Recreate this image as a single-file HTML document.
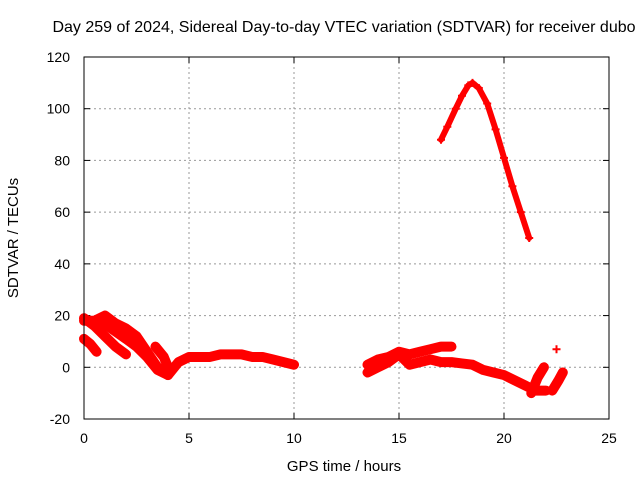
<!DOCTYPE html>
<html><head><meta charset="utf-8"><style>
body{margin:0;background:#fff}
svg{display:block;font-family:"Liberation Sans",sans-serif}
</style></head><body>
<svg id="chart" width="640" height="480" xmlns="http://www.w3.org/2000/svg">
<text x="344" y="32" text-anchor="middle" font-size="16">Day 259 of 2024, Sidereal Day-to-day VTEC variation (SDTVAR) for receiver dubo</text>
<text x="344" y="471" text-anchor="middle" font-size="15">GPS time / hours</text>
<text transform="translate(18,238) rotate(-90)" text-anchor="middle" font-size="15">SDTVAR / TECUs</text>
<g id="grid"></g><g id="data"></g>
<rect x="84" y="57" width="525" height="362" fill="none" stroke="#000" stroke-width="1"/>
</svg>
<script>
const xTicks=[0,5,10,15,20,25];
const yTicks=[-20,0,20,40,60,80,100,120];
const seriesA=[[0,18],[0.5,18],[1,20],[1.5,17],[2,15],[2.5,12],[3,6],[3.5,0],[4,-3],[4.5,2],[5,4],[5.5,4],[6,4],[6.5,5],[7,5],[7.5,5],[8,4],[8.5,4],[9,3],[9.5,2],[10,1]];
const seriesB=[[0,19],[0.5,16],[1,12],[1.5,8],[2,5]];
const seriesC=[[0.8,18],[1.3,15],[2,11],[2.5,8],[3,4],[3.5,-1],[4,-3]];
const seriesD=[[0,11],[0.3,9],[0.6,6]];
const seriesE=[[3.4,8],[3.8,4],[4,0]];
const seriesF=[[13.5,1],[14,3],[14.5,4],[15,6],[15.5,5],[16,6],[16.5,7],[17,8],[17.5,8]];
const seriesG=[[13.5,-2],[14,0],[14.5,2],[15,5],[15.5,1],[16,2],[16.5,3],[17,2],[17.5,2],[18,1.5],[18.5,1],[19,-1],[19.5,-2],[20,-3],[20.5,-5],[21,-7],[21.5,-9],[22,-9]];
const seriesH1=[[21.3,-10],[21.6,-4],[21.9,0]];
const seriesH2=[[22.3,-9],[22.6,-5],[22.8,-2]];
const seriesI=[[22.5,7]];
const seriesArc=[[17,88],[17.3,93],[17.7,100],[18,105],[18.3,109],[18.5,110],[18.8,108],[19.2,102],[19.6,92],[20,81],[20.4,70],[20.8,60],[21.2,50]];
const allSeries=[seriesA,seriesB,seriesC,seriesD,seriesE,seriesF,seriesG,seriesH1,seriesH2,seriesI,seriesArc];
const X=v=>84+v*21, Y=v=>367.3-v*2.586;
const NS="http://www.w3.org/2000/svg";
const grid=document.getElementById('grid'), data=document.getElementById('data');
function mk(t,a,p){const e=document.createElementNS(NS,t);for(const k in a)e.setAttribute(k,a[k]);p.appendChild(e);return e;}
xTicks.forEach(t=>{
  if(t>0&&t<25){const l=mk('line',{x1:X(t),x2:X(t),y1:57,y2:419,stroke:'#999','stroke-dasharray':'2,3'},grid);
  
  }
  mk('line',{x1:X(t),x2:X(t),y1:419,y2:413,stroke:'#000'},grid);
  mk('line',{x1:X(t),x2:X(t),y1:57,y2:63,stroke:'#000'},grid);
  const tx=mk('text',{x:X(t),y:443,'text-anchor':'middle','font-size':14},grid);tx.textContent=t;
  
  
});
yTicks.forEach(t=>{
  if(t>-20&&t<120){const l=mk('line',{x1:84,x2:609,y1:Y(t),y2:Y(t),stroke:'#999','stroke-dasharray':'2,3'},grid);
  
  }
  mk('line',{x1:84,x2:90,y1:Y(t),y2:Y(t),stroke:'#000'},grid);
  mk('line',{x1:603,x2:609,y1:Y(t),y2:Y(t),stroke:'#000'},grid);
  const tx=mk('text',{x:70,y:Y(t)+5,'text-anchor':'end','font-size':14},grid);tx.textContent=t;
  
  
});
allSeries.forEach(s=>{
  const pl=mk('polyline',{points:s.map(p=>X(p[0])+','+Y(p[1])).join(' '),fill:'none',stroke:'#f00','stroke-width':s===seriesArc?6:10,'stroke-linejoin':'round','stroke-linecap':'round'},data);
  
  
  s.forEach(p=>{
    const m=mk('path',{d:`M${X(p[0])-4},${Y(p[1])}h8M${X(p[0])},${Y(p[1])-4}v8`,stroke:'#f00','stroke-width':2},data);
    
    
  });
});
</script>
</body></html>
